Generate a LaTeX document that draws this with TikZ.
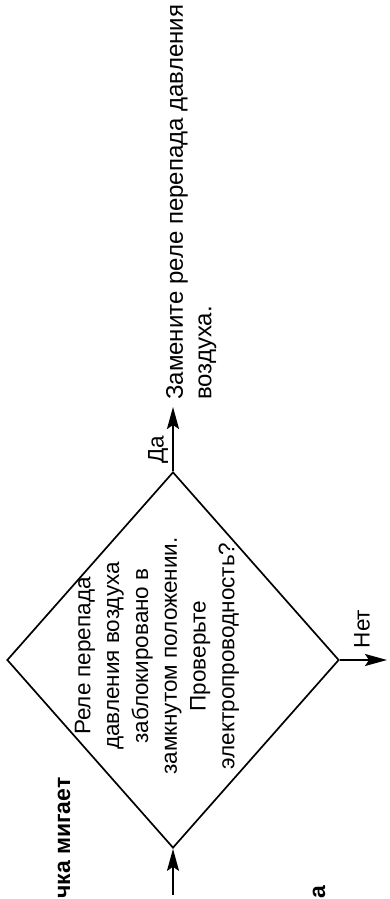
\documentclass[tikz,border=0pt]{standalone}
\usepackage{fontspec}
\setmainfont{Liberation Sans}
\usetikzlibrary{shapes.geometric,arrows.meta}
\begin{document}
\begin{tikzpicture}[x=1pt,y=1pt,
  arr/.style={line width=2pt,-{Stealth[length=22pt,width=12pt,inset=4pt]}},
  txt/.style={rotate=90,inner sep=0pt,font=\fontsize{22.5}{28.8}\selectfont},
  big/.style={rotate=90,inner sep=0pt,font=\fontsize{24}{28.5}\selectfont},
  head/.style={rotate=90,inner sep=0pt,font=\fontsize{23}{28}\selectfont\bfseries}]
\useasboundingbox (0,0) rectangle (389,899);
\clip (0,0) rectangle (389,899);
\node[draw,diamond,line width=1.7pt,minimum width=332pt,minimum height=376pt,inner sep=0pt] (dec) at (173,239) {};
\node[txt,align=center] (dectext) at (157,243) {Реле перепада\\давления воздуха\\заблокировано в\\замкнутом положении.\\Проверьте\\электропроводность?};
\coordinate (in) at (173,4);
\coordinate (yesend) at (173,492);
\coordinate (noend) at (387,239);
\draw[arr] (in) -- (dec.south);
\draw[arr] (dec.north) -- (yesend);
\draw[arr] (dec.east) -- (noend);
\node[txt] (yes) at (158,449) {Да};
\node[txt] (no) at (362,270) {Нет};
\node[big,align=left,anchor=north west] (res) at (166,499) {Замените реле перепада давления\\воздуха.};
\node[head,anchor=base west] (title) at (70,0) {чка мигает};
\node[head,anchor=base west] (sub) at (325,0) {а};
\end{tikzpicture}
\end{document}
